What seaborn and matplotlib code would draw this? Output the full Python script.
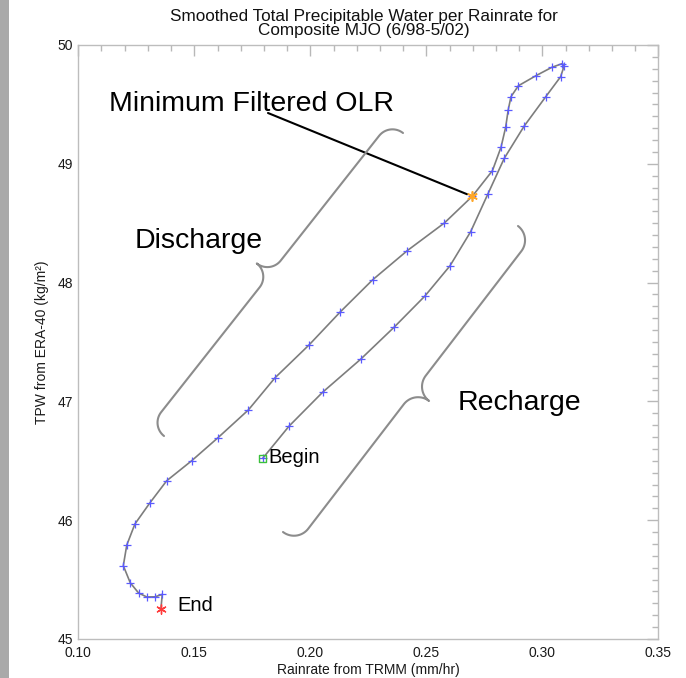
import numpy as np
import pandas as pd
import matplotlib
matplotlib.use("Agg")
import matplotlib.pyplot as plt
import seaborn as sns
from matplotlib.ticker import MultipleLocator, FormatStrFormatter
from matplotlib.lines import Line2D
from matplotlib.patches import Rectangle

# ---------------- data ----------------
rainrate = [0.1795, 0.1909, 0.2053, 0.2217, 0.2362, 0.2494, 0.2602, 0.2691,
            0.2765, 0.2836, 0.2922, 0.3015, 0.3079, 0.3094, 0.3087, 0.3041,
            0.2973, 0.2897, 0.2865, 0.2853, 0.2842, 0.2822, 0.2785, 0.2698,
            0.2578, 0.2418, 0.2269, 0.2130, 0.1995, 0.1848, 0.1733, 0.1603,
            0.1489, 0.1381, 0.1309, 0.1244, 0.1209, 0.1194, 0.1224, 0.1260,
            0.1295, 0.1331, 0.1362, 0.1356]
tpw = [46.521, 46.793, 47.077, 47.355, 47.626, 47.887, 48.141, 48.428,
       48.744, 49.046, 49.318, 49.565, 49.733, 49.823, 49.844, 49.812,
       49.742, 49.657, 49.565, 49.453, 49.307, 49.139, 48.942, 48.726,
       48.502, 48.269, 48.024, 47.755, 47.476, 47.199, 46.928, 46.696,
       46.501, 46.332, 46.147, 45.968, 45.791, 45.617, 45.473, 45.387,
       45.354, 45.355, 45.376, 45.253]
min_olr_index = 23

x_ticks = [0.10, 0.15, 0.20, 0.25, 0.30, 0.35]
y_ticks = [45, 46, 47, 48, 49, 50]

title_lines = ["Smoothed Total Precipitable Water per Rainrate for",
               "Composite MJO (6/98-5/02)"]
x_label = "Rainrate from TRMM (mm/hr)"
y_label = "TPW from ERA-40 (kg/m²)"

# ---------------- figure ----------------
W, H = 686, 678
sns.set_style("white")
plt.rcParams["font.family"] = ["Liberation Sans", "DejaVu Sans"]
plt.rcParams["text.color"] = "black"

fig = plt.figure(figsize=(W / 100, H / 100), dpi=100)
fig.patch.set_facecolor("white")
fig.add_artist(Rectangle((0, 0), 9 / W, 1, transform=fig.transFigure,
                         color="#a9a9a9", lw=0, zorder=0))

ax = fig.add_axes([78.3 / W, 1 - 639 / H, 580 / W, 594 / H])

df = pd.DataFrame({"rainrate": rainrate, "tpw": tpw, "step": np.arange(len(tpw))})

sns.lineplot(data=df, x="rainrate", y="tpw", sort=False, estimator=None,
             color="#7d7d7d", lw=1.2, ax=ax, zorder=2)
sns.scatterplot(data=df.iloc[:-1], x="rainrate", y="tpw", marker="+", s=32,
                color="#5a5aff", linewidth=0.9, ax=ax, zorder=3, legend=False)
# begin / end / minimum OLR markers
sns.scatterplot(x=[rainrate[0]], y=[tpw[0]], marker="s", s=22,
                facecolor="none", edgecolor="#3cc03c", linewidth=1.0, ax=ax, zorder=4)
sns.scatterplot(x=[rainrate[-1]], y=[tpw[-1]], marker=(6, 2, 0), s=45,
                color="#ff3b3b", linewidth=1.0, ax=ax, zorder=4)
sns.scatterplot(x=[rainrate[min_olr_index]], y=[tpw[min_olr_index]], marker=(6, 2, 0),
                s=45, color="#ffa726", linewidth=1.2, ax=ax, zorder=4)

ax.set_xlim(0.10, 0.35)
ax.set_ylim(45, 50)
ax.set_xticks(x_ticks)
ax.set_yticks(y_ticks)
ax.xaxis.set_major_formatter(FormatStrFormatter("%.2f"))
ax.yaxis.set_major_formatter(FormatStrFormatter("%d"))
ax.xaxis.set_minor_locator(MultipleLocator(0.01))
ax.yaxis.set_minor_locator(MultipleLocator(0.1))
ax.tick_params(which="both", direction="in", top=True, right=True,
               color="#b8b8b8", labelcolor="#1a1a1a", labelsize=10)
ax.tick_params(which="major", length=8, width=1)
ax.tick_params(which="minor", length=4, width=1)
ax.tick_params(axis="x", which="major", pad=5)
ax.tick_params(axis="y", which="major", pad=4)
for s in ax.spines.values():
    s.set_color("#bdbdbd")
    s.set_linewidth(1.0)

ax.set_xlabel(x_label, fontsize=10, color="#1a1a1a", labelpad=2)
ax.set_ylabel(y_label, fontsize=10, color="#1a1a1a", labelpad=6)


def fpx(x, y):
    return x / W, 1 - y / H


# title
fig.text(*fpx(364, 17), title_lines[0], ha="center", va="center", fontsize=12.3, color="#111111")
fig.text(*fpx(364, 31), title_lines[1], ha="center", va="center", fontsize=12.3, color="#111111")

# annotation texts
fig.text(*fpx(109, 111), "Minimum Filtered OLR", ha="left", va="baseline", fontsize=20.5, color="black")
fig.text(*fpx(135, 248), "Discharge", ha="left", va="baseline", fontsize=20.5, color="black")
fig.text(*fpx(458, 410), "Recharge", ha="left", va="baseline", fontsize=20.5, color="black")
fig.text(*fpx(268, 463), "Begin", ha="left", va="baseline", fontsize=14.5, color="black")
fig.text(*fpx(177, 611), "End", ha="left", va="baseline", fontsize=14.5, color="black")

# leader line to the minimum OLR point
ax.annotate("", xy=(rainrate[min_olr_index], tpw[min_olr_index]),
            xytext=fpx(268, 113), textcoords="figure fraction",
            arrowprops=dict(arrowstyle="-", color="black", lw=1.5,
                            shrinkA=0, shrinkB=4))


def brace(p0, p1, r, side):
    p0 = np.asarray(p0, float)
    p1 = np.asarray(p1, float)
    d = p1 - p0
    L = np.hypot(*d)
    u = d / L
    n = np.array([-u[1], u[0]]) * side

    def arc(cs, ct, a0, a1):
        a = np.radians(np.linspace(a0, a1, 25))
        return np.column_stack([cs + r * np.cos(a), ct + r * np.sin(a)])

    local = np.vstack([arc(r, 0, 180, 90), arc(L / 2 - r, 2 * r, 270, 360),
                       arc(L / 2 + r, 2 * r, 180, 270), arc(L - r, 0, 90, 0)])
    xy = p0 + np.outer(local[:, 0], u) + np.outer(local[:, 1], n)
    fig.add_artist(Line2D(xy[:, 0] / W, 1 - xy[:, 1] / H, transform=fig.transFigure,
                          color="#8c8c8c", lw=1.5, solid_capstyle="round"))


brace((164, 436), (403, 133), 17, -1)
brace((283, 532), (518, 226), 18, 1)

fig.savefig("out.png", dpi=100)
